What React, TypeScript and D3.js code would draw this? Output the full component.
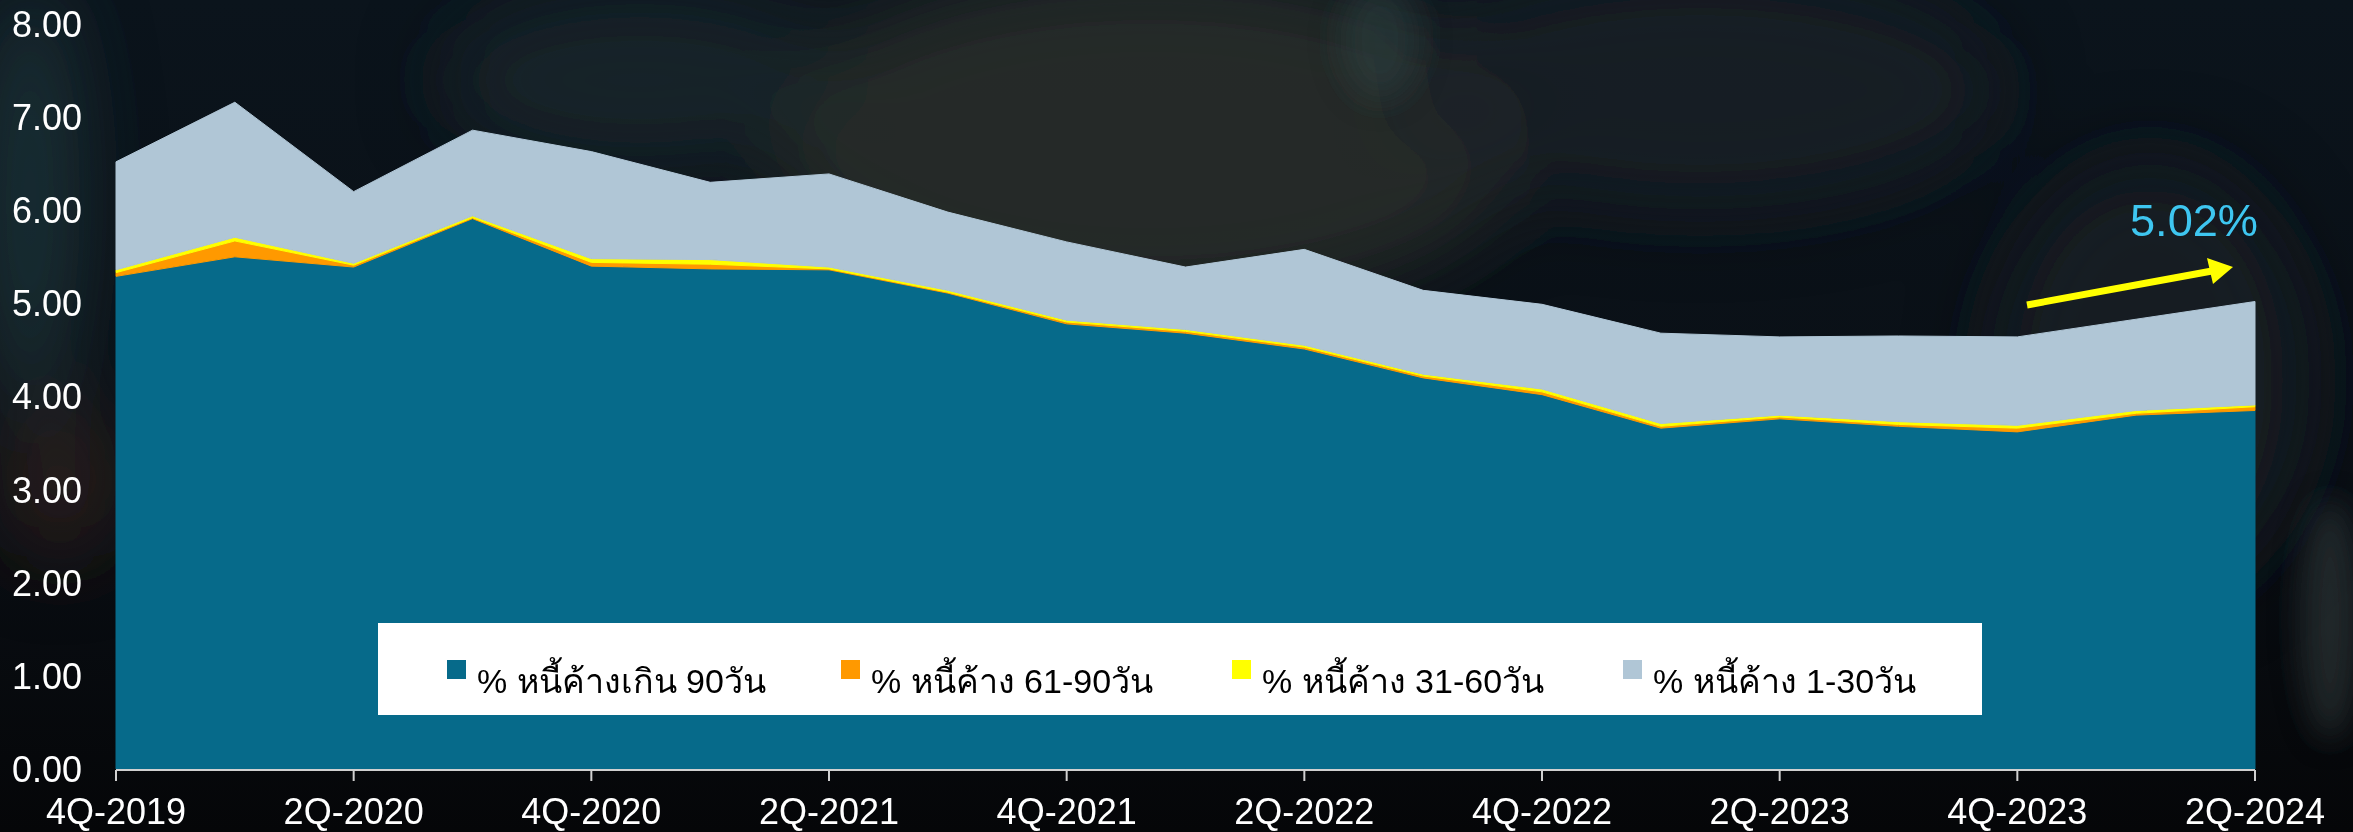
import React from "react";
import * as d3 from "d3";

const quarters = [
  "4Q-2019", "1Q-2020", "2Q-2020", "3Q-2020", "4Q-2020", "1Q-2021", "2Q-2021", "3Q-2021",
  "4Q-2021", "1Q-2022", "2Q-2022", "3Q-2022", "4Q-2022", "1Q-2023", "2Q-2023", "3Q-2023",
  "4Q-2023", "1Q-2024", "2Q-2024",
];
const over90 = [5.29, 5.5, 5.39, 5.91, 5.4, 5.37, 5.36, 5.11, 4.78, 4.68, 4.51, 4.2, 4.02, 3.66, 3.76, 3.68, 3.62, 3.8, 3.85];
const d61to90 = [0.04, 0.17, 0.02, 0.01, 0.04, 0.05, 0.01, 0.01, 0.02, 0.02, 0.02, 0.02, 0.03, 0.02, 0.02, 0.02, 0.04, 0.02, 0.04];
const d31to60 = [0.03, 0.04, 0.02, 0.02, 0.04, 0.05, 0.02, 0.02, 0.02, 0.02, 0.02, 0.02, 0.03, 0.03, 0.02, 0.03, 0.03, 0.03, 0.02];
const d1to30 = [1.16, 1.45, 0.77, 0.92, 1.15, 0.83, 1.0, 0.84, 0.84, 0.67, 1.03, 0.9, 0.91, 0.97, 0.84, 0.92, 0.95, 0.98, 1.11];
const yTicks = [0, 1, 2, 3, 4, 5, 6, 7, 8];
const xTickLabels = ["4Q-2019", "2Q-2020", "4Q-2020", "2Q-2021", "4Q-2021", "2Q-2022", "4Q-2022", "2Q-2023", "4Q-2023", "2Q-2024"];
const seriesKeys = ["over90", "d61to90", "d31to60", "d1to30"];
const seriesLabels = ["% หนี้ค้างเกิน 90วัน", "% หนี้ค้าง 61-90วัน", "% หนี้ค้าง 31-60วัน", "% หนี้ค้าง 1-30วัน"];
const seriesColors = ["#066a8a", "#ff9900", "#ffff00", "#b0c6d6"];
const annotation = "5.02%";

export default function App() {
  const W = 2353, H = 832;
  const x = d3.scalePoint<string>().domain(quarters).range([116, 2255]);
  const y = d3.scaleLinear().domain([0, 8]).range([769, 24]);

  const rows = quarters.map((q, i) => ({
    q,
    over90: over90[i],
    d61to90: d61to90[i],
    d31to60: d31to60[i],
    d1to30: d1to30[i],
  }));
  const stacked = d3.stack<any>().keys(seriesKeys)(rows);
  const area = d3
    .area<any>()
    .x((d) => x(d.data.q) as number)
    .y0((d) => y(d[0]))
    .y1((d) => y(d[1]));

  const legendX = [447, 841, 1232, 1623];
  const font = "'Liberation Sans', Arial, 'Noto Sans', sans-serif";

  return (
    <svg width={W} height={H} style={{ position: "absolute", left: 0, top: 0, display: "block" }}>
      <defs>
        <linearGradient id="bg" x1="0" y1="0" x2="0" y2="1">
          <stop offset="0" stopColor="#0b141c" />
          <stop offset="0.6" stopColor="#0a0f15" />
          <stop offset="1" stopColor="#050608" />
        </linearGradient>
        <filter id="blur" x="-50%" y="-50%" width="200%" height="200%">
          <feGaussianBlur stdDeviation="40" />
        </filter>
        <filter id="blur2" x="-50%" y="-50%" width="200%" height="200%">
          <feGaussianBlur stdDeviation="15" />
        </filter>
      </defs>
      <rect x={0} y={0} width={W} height={H} fill="url(#bg)" />
      <g filter="url(#blur)">
        <ellipse cx={30} cy={200} rx={50} ry={220} fill="#2a4548" opacity={0.6} />
        <ellipse cx={1150} cy={140} rx={380} ry={170} fill="#2a2e2d" opacity={0.8} />
        <ellipse cx={1700} cy={90} rx={300} ry={120} fill="#1c2224" opacity={0.8} />
        <ellipse cx={640} cy={80} rx={200} ry={90} fill="#1c2a2c" opacity={0.7} />
        <ellipse cx={2150} cy={380} rx={160} ry={220} fill="#1a1f24" opacity={0.9} />
        <ellipse cx={60} cy={480} rx={60} ry={80} fill="#3a2a22" opacity={0.6} />
      </g>
      <g filter="url(#blur2)">
        <ellipse cx={1380} cy={40} rx={40} ry={60} fill="#2f4a48" opacity={0.4} />
        <ellipse cx={2330} cy={620} rx={30} ry={120} fill="#3a3f44" opacity={0.5} />
      </g>

      {stacked.map((s, i) => (
        <path key={seriesKeys[i]} d={area(s) as string} fill={seriesColors[i]} stroke={seriesColors[i]} strokeWidth={1} />
      ))}

      {/* x axis */}
      <line x1={x(quarters[0])} x2={x(quarters[quarters.length - 1])} y1={770} y2={770} stroke="#d0d0d0" strokeWidth={2} />
      {xTickLabels.map((q) => (
        <g key={q} transform={`translate(${x(q)},0)`}>
          <line y1={770} y2={781} stroke="#d0d0d0" strokeWidth={2} />
          <text y={824} textAnchor="middle" fill="#ffffff" fontFamily={font} fontSize={36}>
            {q}
          </text>
        </g>
      ))}

      {/* y axis labels */}
      {yTicks.map((t) => (
        <text key={t} x={82} y={y(t)} dy="0.36em" textAnchor="end" fill="#ffffff" fontFamily={font} fontSize={36}>
          {t.toFixed(2)}
        </text>
      ))}

      {/* legend */}
      <rect x={378} y={623} width={1604} height={92} fill="#ffffff" />
      {seriesLabels.map((lab, i) => (
        <g key={lab}>
          <rect x={legendX[i]} y={660} width={19} height={19} fill={seriesColors[i]} />
          <text x={legendX[i] + 30} y={693} fill="#000000" fontFamily={font} fontSize={34}>
            {lab}
          </text>
        </g>
      ))}

      {/* annotation */}
      <line x1={2027} y1={305} x2={2212} y2={271} stroke="#ffff00" strokeWidth={7} />
      <polygon points="2233,267 2207,258 2213,284" fill="#ffff00" />
      <text x={2130} y={236} fill="#3ec6f0" fontFamily={font} fontSize={44} textLength={128} lengthAdjust="spacingAndGlyphs">
        {annotation}
      </text>
    </svg>
  );
}
